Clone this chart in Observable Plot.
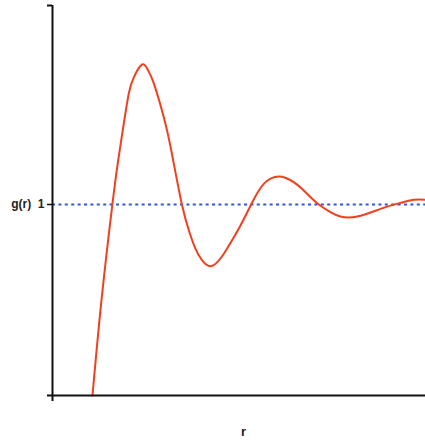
<!DOCTYPE html>
<html>
<head>
<meta charset="utf-8">
<script src="https://cdn.jsdelivr.net/npm/d3@7"></script>
<script src="https://cdn.jsdelivr.net/npm/@observablehq/plot@0.6"></script>
<style>
  html, body { margin: 0; padding: 0; background: #fff; }
  svg { display: block; }
</style>
</head>
<body>
<div id="chart"></div>
<script>
// radial distribution function g(r)
const rValues = [0.768, 0.828, 0.902, 0.940, 0.974, 1.011, 1.045, 1.101, 1.141, 1.179, 1.246, 1.296, 1.366, 1.414, 1.454, 1.503, 1.566, 1.633, 1.682, 1.749, 1.834, 1.916, 2.017, 2.117, 2.196, 2.274, 2.363, 2.430, 2.542, 2.698, 2.810, 2.922, 3.0];
const gValues = [0, 0.497, 1.005, 1.230, 1.405, 1.580, 1.666, 1.733, 1.702, 1.634, 1.457, 1.283, 1.005, 0.864, 0.776, 0.707, 0.678, 0.725, 0.785, 0.874, 1.004, 1.108, 1.147, 1.117, 1.064, 1.007, 0.960, 0.937, 0.937, 0.977, 1.004, 1.025, 1.025];
const yTicks = [1];
const yTickLabels = ["g(r)\u00a0\u00a01"];
const xLabel = "r";
const xDomain = [0.5, 3.0];
const yDomain = [0, 2.042];

const data = rValues.map((r, i) => ({r, g: gValues[i]}));

const chart = Plot.plot({
  width: 425,
  height: 446,
  marginLeft: 52,
  marginRight: 0,
  marginTop: 5,
  marginBottom: 51,
  style: {fontFamily: "Liberation Sans, Arial, sans-serif", background: "#fff"},
  x: {domain: xDomain, axis: null},
  y: {domain: yDomain, axis: null},
  marks: [
    // g(r) = 1 reference
    Plot.ruleY(yTicks, {x1: xDomain[0], x2: xDomain[1], stroke: "#3355dd", strokeWidth: 2.2, strokeDasharray: "3,3.4"}),
    // curve
    Plot.line(data, {x: "r", y: "g", stroke: "#f0401f", strokeWidth: 2, curve: "natural"}),
    // axes
    Plot.ruleX([xDomain[0]], {y1: -0.031, y2: yDomain[1], stroke: "#111", strokeWidth: 2}),
    Plot.ruleY([yDomain[0]], {x1: 0.4665, x2: xDomain[1], stroke: "#111", strokeWidth: 2}),
    Plot.ruleY([yDomain[1]], {x1: 0.4665, x2: xDomain[0], stroke: "#111", strokeWidth: 2}),
    Plot.ruleY(yTicks, {x1: 0.4665, x2: xDomain[0], stroke: "#111", strokeWidth: 1.5}),
    Plot.text(yTicks, {x: xDomain[0], y: d => d, text: (d, i) => yTickLabels[i], dx: -8, textAnchor: "end", fontSize: 12, fontWeight: "bold", fill: "#222"}),
    Plot.text([xLabel], {frameAnchor: "bottom", dx: 4.5, dy: 40, text: d => d, fontSize: 13, fontWeight: "bold", fill: "#222"})
  ]
});
document.getElementById("chart").appendChild(chart);
</script>
</body>
</html>
